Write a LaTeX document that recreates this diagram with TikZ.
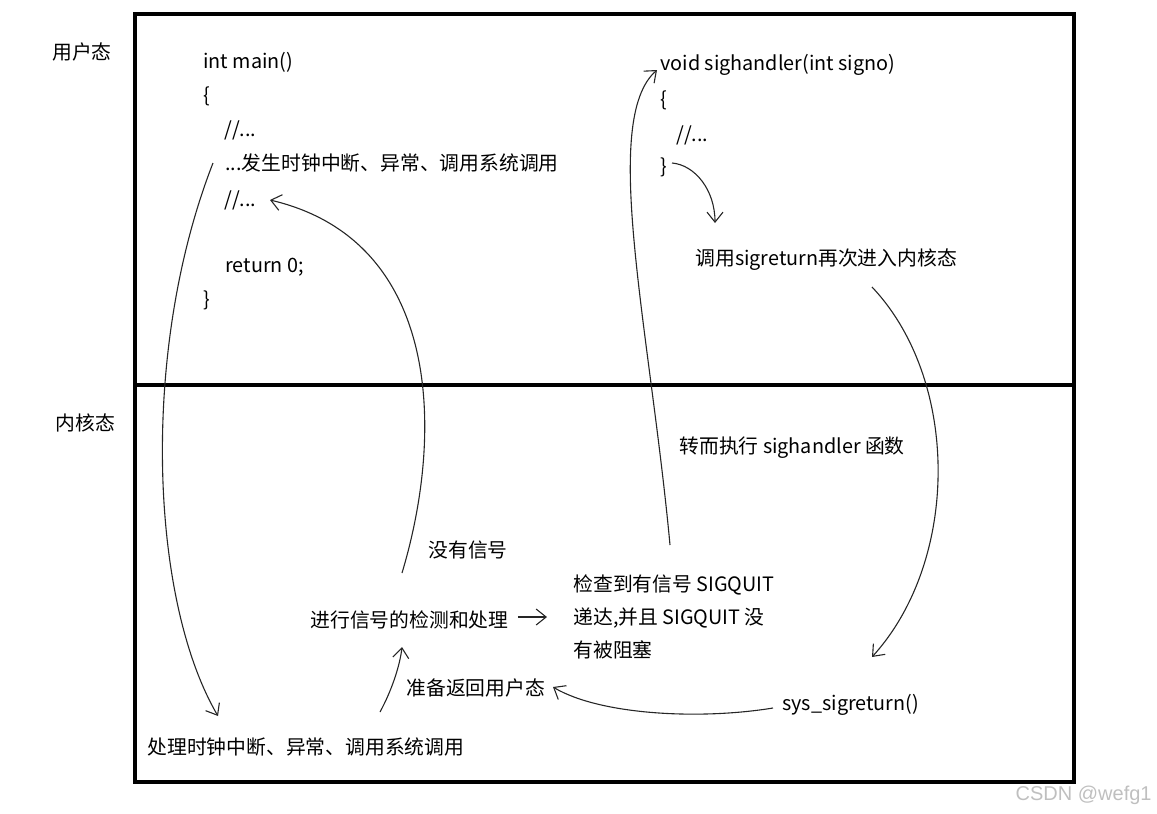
\documentclass[tikz,border=0pt]{standalone}
\usepackage{fontspec}
\newfontfamily\cjk{Noto Sans CJK SC}
\newfontfamily\wmfont{Liberation Sans}
\usetikzlibrary{arrows.meta}
\tikzset{
  txt/.style={anchor=west,inner sep=0pt,font=\cjk\fontsize{9.9}{16.5}\selectfont},
  multi/.style={txt,align=left},
  flow/.style={-{Straight Barb[length=5pt,width=8pt]},draw=black!85,line width=0.55pt},
  pane/.style={draw=black,line width=1.7pt},
  wmark/.style={anchor=east,inner sep=0pt,text=black!25,font=\wmfont\fontsize{10}{12}\selectfont}
}

\begin{document}
\begin{tikzpicture}[x=0.5pt,y=-0.5pt]
  \useasboundingbox (0,0) rectangle (1157,814);
  \draw[pane] (135,14) rectangle (1074,782);
  \draw[pane] (135,385) -- (1074,385);

  \node[txt] (user) at (52,52) {用户态};
  \node[txt] (kernel) at (55,423) {内核态};

  \node[txt] (mainhead) at (203,62) {int main()};
  \node[txt] (mainopen) at (203,96) {\{};
  \node[txt] (cmta) at (224,130) {//...};
  \node[txt] (irq) at (225,163) {...发生时钟中断、异常、调用系统调用};
  \node[txt] (cmtb) at (224,200) {//...};
  \node[txt] (retzero) at (225,267) {return 0;};
  \node[txt] (mainclose) at (203,300) {\}};

  \node[txt] (handler) at (660,65) {void sighandler(int signo)};
  \node[txt] (hopen) at (660,100) {\{};
  \node[txt] (hcmt) at (676,135) {//...};
  \node[txt] (hclose) at (660,167) {\}};
  \node[txt] (sigret) at (695,260) {调用sigreturn再次进入内核态};

  \node[txt] (jump) at (679,448) {转而执行 sighandler 函数};
  \node[txt] (nosig) at (428,550) {没有信号};
  \node[txt] (detect) at (310,620) {进行信号的检测和处理};
  \node[multi] (found) at (573,617) {检查到有信号 SIGQUIT\\递达,并且 SIGQUIT 没\\有被阻塞};
  \node[txt] (prepare) at (406,688) {准备返回用户态};
  \node[txt] (sysret) at (782,705) {sys\_sigreturn()};
  \node[txt] (handle) at (147,747) {处理时钟中断、异常、调用系统调用};

  \node[wmark] (wm) at (1152,795) {CSDN @wefg1};

  \draw[flow] ([shift={(-12,0)}]irq.west) .. controls (140,350) and (150,600) .. ([shift={(71,-31)}]handle.west);
  \draw[flow] ([shift={(92,-47)}]detect.west) .. controls (445,430) and (440,240) .. ([shift={(46,0)}]cmtb.west);
  \draw[flow] ([shift={(-26,24)}]prepare.west) .. controls (392,690) and (400,665) .. ([shift={(92,27)}]detect.west);
  \draw[flow] ([shift={(9,-3)}]detect.east) -- ([shift={(-26,0)}]found.west);
  \draw[flow] ([shift={(97,-72)}]found.west) .. controls (650,330) and (600,120) .. ([shift={(-3,5)}]handler.west);
  \draw[flow] ([shift={(12,-4)}]hclose.west) .. controls (695,165) and (715,190) .. ([shift={(20,-37)}]sigret.west);
  \draw[flow] ([shift={(177,27)}]sigret.west) .. controls (960,380) and (960,560) .. ([shift={(90,-48)}]sysret.west);
  \draw[flow] ([shift={(-9,3)}]sysret.west) .. controls (700,720) and (600,715) .. ([shift={(147,-1)}]prepare.west);
\end{tikzpicture}
\end{document}
